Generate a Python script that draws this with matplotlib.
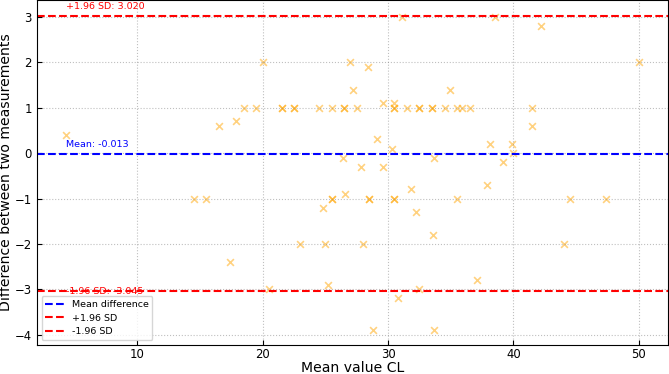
import matplotlib
matplotlib.use('Agg')
import matplotlib.pyplot as plt

mean_vals = [4.3, 16.5, 17.9, 18.5, 19.5, 20.0, 21.5, 21.5, 22.5, 22.5,
             24.5, 25.5, 26.5, 26.5, 27.5, 27.0, 28.4, 27.2, 29.6, 30.5,
             30.5, 30.5, 31.1, 31.5, 32.5, 32.5, 33.5, 33.5, 34.5, 34.9,
             35.5, 35.9, 36.5, 38.5, 42.2, 41.5, 41.5, 50.0, 29.1, 30.3,
             26.4, 27.8, 29.6, 33.7, 38.1, 39.9, 40.0, 39.2, 37.9, 31.8,
             14.5, 15.5, 17.4, 20.5, 23.0, 25.0, 24.8, 25.5, 25.5, 25.2,
             26.6, 28.5, 28.5, 30.5, 30.5, 32.2, 33.6, 35.5, 44.5, 47.4,
             28.0, 44.0, 37.1, 32.5, 30.8, 28.8, 33.7]
diff_vals = [0.4, 0.6, 0.7, 1, 1, 2, 1, 1, 1, 1,
             1, 1, 1, 1, 1, 2, 1.9, 1.4, 1.1, 1.1,
             1, 1, 3.0, 1, 1, 1, 1, 1, 1, 1.4,
             1, 1, 1, 3.0, 2.8, 1, 0.6, 2, 0.3, 0.1,
             -0.1, -0.3, -0.3, -0.1, 0.2, 0.2, 0.0, -0.2, -0.7, -0.8,
             -1, -1, -2.4, -3.0, -2, -2, -1.2, -1, -1, -2.9,
             -0.9, -1, -1, -1, -1, -1.3, -1.8, -1, -1, -1,
             -2, -2, -2.8, -3.0, -3.2, -3.9, -3.9]

mean_diff = -0.013
upper_loa = 3.020
lower_loa = -3.045

plt.rcParams['font.size'] = 8.4

fig = plt.figure(figsize=(6.69, 3.74), dpi=100)
ax = fig.add_axes([0.055, 0.078, 0.943, 0.922])

ax.scatter(mean_vals, diff_vals, marker='x', color='orange', alpha=0.5, s=24, linewidths=1.2)

ax.axhline(mean_diff, color='blue', linestyle='--', linewidth=1.5, label='Mean difference')
ax.axhline(upper_loa, color='red', linestyle='--', linewidth=1.5, label='+1.96 SD')
ax.axhline(lower_loa, color='red', linestyle='--', linewidth=1.5, label='-1.96 SD')

# annotations start at the smallest mean value; the lower one sits under its line (behind the legend)
x0 = min(mean_vals)
ax.text(x0, mean_diff + 0.1, f'Mean: {mean_diff:.3f}', color='blue', va='bottom', fontsize=6.8)
ax.text(x0, upper_loa + 0.1, f'+1.96 SD: {upper_loa:.3f}', color='red', va='bottom', fontsize=6.8)
ax.text(x0, lower_loa - 0.11, f'-1.96 SD: {lower_loa:.3f}', color='red', va='bottom', fontsize=6.8)

ax.set_xlim(1.98, 52.3)
ax.set_ylim(-4.22, 3.37)
ax.set_xticks([10, 20, 30, 40, 50])
ax.set_yticks([-4, -3, -2, -1, 0, 1, 2, 3])
ax.tick_params(direction='in')
ax.tick_params(axis='x', pad=2.5)
ax.grid(True, linestyle=':', color='gray', alpha=0.5)

ax.set_xlabel('Mean value CL', fontsize=10.1)
ax.xaxis.set_label_coords(0.5, -0.048)
ax.set_ylabel('Difference between two measurements', fontsize=10.1, labelpad=1)
ax.legend(loc='lower left', fontsize=6.8)

fig.savefig('out.png', dpi=100)
